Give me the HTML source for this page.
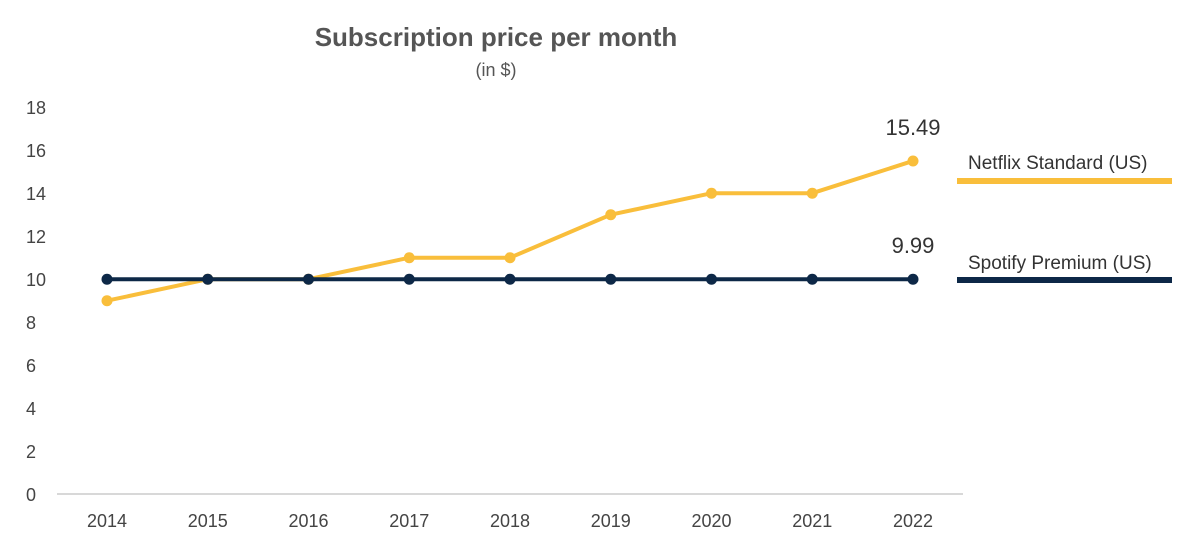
<!DOCTYPE html>
<html><head><meta charset="utf-8"><style>
body{margin:0;background:#fff;width:1200px;height:545px;overflow:hidden}
text{font-family:"Liberation Sans",sans-serif}
</style></head><body>
<svg id="chart" width="1200" height="545">
<text x="496" y="46" text-anchor="middle" font-size="26" font-weight="bold" fill="#555">Subscription price per month</text>
<text x="496" y="76" text-anchor="middle" font-size="18" fill="#555">(in $)</text>
<line x1="57" y1="494" x2="963" y2="494" stroke="#ccc" stroke-width="1.5"/>
<g id="yticks"></g><g id="xticks"></g><g id="series"></g>
<text x="968" y="169" font-size="19" fill="#333">Netflix Standard (US)</text>
<line x1="957" y1="181" x2="1172" y2="181" stroke="#F9BE3B" stroke-width="6"/>
<text x="968" y="269" font-size="19" fill="#333">Spotify Premium (US)</text>
<line x1="957" y1="280" x2="1172" y2="280" stroke="#0D2847" stroke-width="6"/>
</svg>
<script>
const years=["2014","2015","2016","2017","2018","2019","2020","2021","2022"];
const netflix=[8.99,9.99,9.99,10.99,10.99,12.99,13.99,13.99,15.49];
const spotify=[9.99,9.99,9.99,9.99,9.99,9.99,9.99,9.99,9.99];
const yTicks=[0,2,4,6,8,10,12,14,16,18];
const endLabels=["15.49","9.99"];
const NS="http://www.w3.org/2000/svg";
const xs=i=>107+i*100.75, ys=v=>494-v*21.5;
function mk(tag,attrs,parent,txt){const e=document.createElementNS(NS,tag);for(const k in attrs)e.setAttribute(k,attrs[k]);if(txt!==undefined)e.textContent=txt;parent.appendChild(e);return e;}
const yg=document.getElementById('yticks');
yTicks.forEach(v=>{const t=mk('text',{x:26,y:ys(v)+7,'font-size':18,fill:'#444'},yg,String(v));

});
const xg=document.getElementById('xticks');
years.forEach((y,i)=>{const t=mk('text',{x:xs(i),y:527,'text-anchor':'middle','font-size':18,fill:'#444'},xg,y);

});
const sg=document.getElementById('series');
[[netflix,'#F9BE3B','netflix'],[spotify,'#0D2847','spotify']].forEach(([d,c,n],k)=>{
 const p=mk('polyline',{points:d.map((v,i)=>xs(i)+','+ys(v)).join(' '),fill:'none',stroke:c,'stroke-width':4,'stroke-linejoin':'round'},sg);
 
 
 d.forEach((v,i)=>{const m=mk('circle',{cx:xs(i),cy:ys(v),r:5.5,fill:c},sg);
  
  });
 const last=d.length-1;
 const l=mk('text',{x:xs(last),y:ys(d[last])-26,'text-anchor':'middle','font-size':22,fill:'#333'},sg,endLabels[k]);
 
 
});
</script>
</body></html>
